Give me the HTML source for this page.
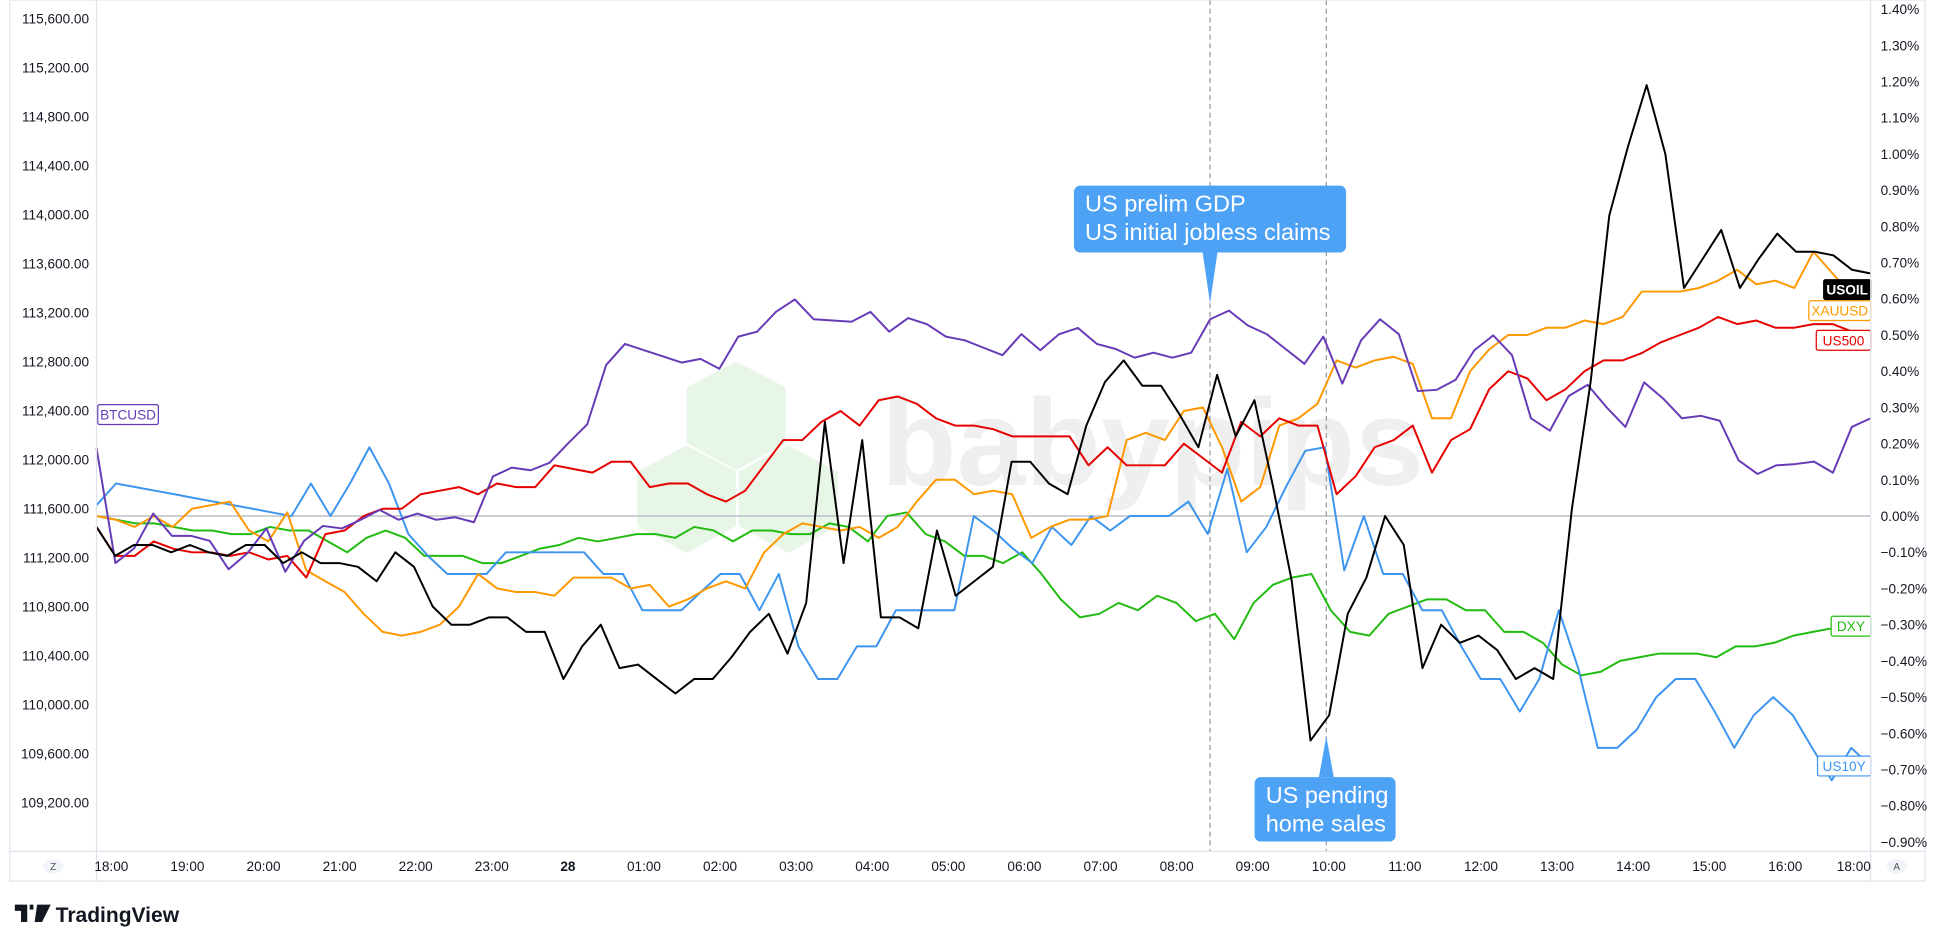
<!DOCTYPE html>
<html><head><meta charset="utf-8"><style>
html,body{margin:0;padding:0;background:#fff;width:1940px;height:943px;overflow:hidden}
svg{display:block;font-family:"Liberation Sans",sans-serif}
</style></head><body>
<svg id="chart" width="1940" height="943" viewBox="0 0 1568 762" preserveAspectRatio="none" xmlns="http://www.w3.org/2000/svg">
<rect x="0" y="0" width="1568" height="762" fill="#fff"/>
<g>
<polygon points="595,292 635,313 635,358 595,380 555,358 555,313" fill="#e7f6e7"/>
<polygon points="555,360 595,381 595,425 555,447 515,425 515,381" fill="#e7f6e7"/>
<polygon points="637,360 677,381 677,425 637,447 597,425 597,381" fill="#e7f6e7"/>
<text x="712" y="392" font-size="100" font-weight="bold" fill="#efefef">babypips</text>
</g>
<g id="grid"></g>
<g id="series"></g>
<g id="annot"></g>
<g id="axes"></g>
</svg>
<script>
const leftTicks=[115600,115200,114800,114400,114000,113600,113200,112800,112400,112000,111600,111200,110800,110400,110000,109600,109200];
const rightTicks=[1.4,1.3,1.2,1.1,1.0,0.9,0.8,0.7,0.6,0.5,0.4,0.3,0.2,0.1,0,-0.1,-0.2,-0.3,-0.4,-0.5,-0.6,-0.7,-0.8,-0.9];
const timeLabels=["18:00","19:00","20:00","21:00","22:00","23:00","28","01:00","02:00","03:00","04:00","05:00","06:00","07:00","08:00","09:00","10:00","11:00","12:00","13:00","14:00","15:00","16:00","18:00"];
const timeHours=[0,1,2,3,4,5,6,7,8,9,10,11,12,13,14,15,16,17,18,19,20,21,22,22.9];
const usoil=[-0.03,-0.11,-0.08,-0.08,-0.10,-0.08,-0.10,-0.11,-0.08,-0.08,-0.13,-0.10,-0.13,-0.13,-0.14,-0.18,-0.10,-0.14,-0.25,-0.30,-0.30,-0.28,-0.28,-0.32,-0.32,-0.45,-0.36,-0.30,-0.42,-0.41,-0.45,-0.49,-0.45,-0.45,-0.39,-0.32,-0.27,-0.38,-0.24,0.26,-0.13,0.21,-0.28,-0.28,-0.31,-0.04,-0.22,-0.18,-0.14,0.15,0.15,0.09,0.06,0.25,0.37,0.43,0.36,0.36,0.28,0.19,0.39,0.22,0.32,0.08,-0.18,-0.62,-0.55,-0.27,-0.17,0.00,-0.08,-0.42,-0.30,-0.35,-0.33,-0.37,-0.45,-0.42,-0.45,0.02,0.37,0.83,1.02,1.19,1.00,0.63,0.71,0.79,0.63,0.71,0.78,0.73,0.73,0.72,0.68,0.67];
const btcusd=[112095,111156,111277,111560,111378,111378,111337,111105,111236,111438,111085,111337,111459,111438,111509,111590,111509,111560,111509,111529,111489,111863,111934,111913,111974,112135,112287,112772,112944,112893,112843,112792,112822,112741,113004,113044,113206,113307,113145,113135,113125,113206,113044,113156,113105,113004,112974,112913,112853,113024,112893,113024,113075,112944,112903,112832,112873,112832,112873,113145,113216,113095,113024,112903,112782,113004,112620,112974,113145,113024,112560,112570,112651,112893,113014,112853,112337,112236,112519,112610,112428,112267,112630,112499,112337,112358,112317,111994,111883,111954,111964,111984,111893,112267,112337];
const xauusd=[0.00,-0.01,-0.03,0.00,-0.03,0.02,0.03,0.04,-0.04,-0.07,0.01,-0.15,-0.18,-0.21,-0.27,-0.32,-0.33,-0.32,-0.30,-0.25,-0.16,-0.20,-0.21,-0.21,-0.22,-0.17,-0.17,-0.17,-0.20,-0.19,-0.25,-0.23,-0.20,-0.18,-0.20,-0.10,-0.05,-0.02,-0.03,-0.04,-0.03,-0.06,-0.03,0.04,0.10,0.10,0.06,0.07,0.06,-0.06,-0.03,-0.01,-0.01,0.00,0.21,0.23,0.21,0.29,0.30,0.19,0.04,0.08,0.25,0.27,0.31,0.43,0.41,0.43,0.44,0.42,0.27,0.27,0.40,0.46,0.50,0.50,0.52,0.52,0.54,0.53,0.55,0.62,0.62,0.62,0.63,0.65,0.68,0.64,0.65,0.63,0.73,0.67,0.61,0.60];
const us500=[-0.03,-0.11,-0.11,-0.07,-0.09,-0.10,-0.10,-0.11,-0.10,-0.12,-0.11,-0.17,-0.05,-0.04,0.00,0.02,0.02,0.06,0.07,0.08,0.06,0.09,0.08,0.08,0.14,0.13,0.12,0.15,0.15,0.08,0.09,0.09,0.06,0.04,0.07,0.14,0.21,0.21,0.26,0.29,0.25,0.32,0.33,0.31,0.27,0.25,0.25,0.24,0.22,0.22,0.22,0.22,0.14,0.19,0.14,0.14,0.14,0.20,0.16,0.12,0.26,0.22,0.27,0.25,0.25,0.06,0.11,0.19,0.21,0.25,0.12,0.21,0.24,0.35,0.40,0.38,0.32,0.35,0.40,0.43,0.43,0.45,0.48,0.50,0.52,0.55,0.53,0.54,0.52,0.52,0.53,0.53,0.51,0.49];
const dxy=[0.00,-0.01,-0.02,-0.02,-0.03,-0.04,-0.04,-0.05,-0.05,-0.03,-0.04,-0.04,-0.07,-0.10,-0.06,-0.04,-0.06,-0.11,-0.11,-0.11,-0.13,-0.13,-0.11,-0.09,-0.08,-0.06,-0.07,-0.06,-0.05,-0.05,-0.06,-0.03,-0.04,-0.07,-0.04,-0.04,-0.05,-0.05,-0.02,-0.03,-0.07,0.00,0.01,-0.05,-0.07,-0.11,-0.11,-0.13,-0.10,-0.16,-0.23,-0.28,-0.27,-0.24,-0.26,-0.22,-0.24,-0.29,-0.27,-0.34,-0.24,-0.19,-0.17,-0.16,-0.26,-0.32,-0.33,-0.27,-0.25,-0.23,-0.23,-0.26,-0.26,-0.32,-0.32,-0.35,-0.41,-0.44,-0.43,-0.40,-0.39,-0.38,-0.38,-0.38,-0.39,-0.36,-0.36,-0.35,-0.33,-0.32,-0.31,-0.31,-0.33];
const us10y=[0.03,0.09,0.08,0.07,0.06,0.05,0.04,0.03,0.02,0.01,0.00,0.09,0.00,0.09,0.19,0.09,-0.05,-0.11,-0.16,-0.16,-0.16,-0.10,-0.10,-0.10,-0.10,-0.10,-0.16,-0.16,-0.26,-0.26,-0.26,-0.21,-0.16,-0.16,-0.26,-0.16,-0.36,-0.45,-0.45,-0.36,-0.36,-0.26,-0.26,-0.26,-0.26,0.00,-0.04,-0.09,-0.13,-0.03,-0.08,0.00,-0.04,0.00,0.00,0.00,0.04,-0.05,0.13,-0.10,-0.03,0.08,0.18,0.19,-0.15,0.00,-0.16,-0.16,-0.26,-0.26,-0.36,-0.45,-0.45,-0.54,-0.45,-0.26,-0.42,-0.64,-0.64,-0.59,-0.50,-0.45,-0.45,-0.54,-0.64,-0.55,-0.50,-0.55,-0.64,-0.73,-0.64,-0.69];

const NS='http://www.w3.org/2000/svg';
const PL=78,PR=1512,PT=0,PB=688;
function yPct(p){return 417-p*292.6;}
function yPrice(v){return 15+(115600-v)/400*39.6;}
function xTime(h){return 90+h*61.5;}
function xIdx(i,n){return PL+i*(PR-PL)/(n-1);}
function mk(tag,attrs,parent){const e=document.createElementNS(NS,tag);for(const k in attrs)e.setAttribute(k,attrs[k]);parent.appendChild(e);return e;}
const grid=document.getElementById('grid'),ser=document.getElementById('series'),ann=document.getElementById('annot'),axes=document.getElementById('axes');

let f=mk('rect',{x:8,y:0,width:1548,height:712,fill:'none',stroke:'#e0e3eb','stroke-width':1},axes);


mk('line',{x1:PL,y1:0,x2:PL,y2:712,stroke:'#e0e3eb'},axes);
mk('line',{x1:PR,y1:0,x2:PR,y2:712,stroke:'#e0e3eb'},axes);
mk('line',{x1:8,y1:PB,x2:1556,y2:PB,stroke:'#e0e3eb'},axes);
let z=mk('line',{x1:PL,y1:yPct(0),x2:PR,y2:yPct(0),stroke:'#b2b5be','stroke-width':1},grid);



leftTicks.forEach(v=>{
  const t=mk('text',{x:72,y:yPrice(v)+4,'text-anchor':'end','font-size':11,fill:'#131722'},axes);
  t.textContent=v.toLocaleString('en-US',{minimumFractionDigits:2});
  
  
});
rightTicks.forEach(v=>{
  const t=mk('text',{x:1520,y:yPct(v)+4,'font-size':11,fill:'#131722'},axes);
  t.textContent=(v<0?'\u2212':'')+Math.abs(v).toFixed(2)+'%';
  
  
});
timeLabels.forEach((l,i)=>{
  const t=mk('text',{x:xTime(timeHours[i]),y:704,'text-anchor':'middle','font-size':11,fill:'#131722','font-weight':l==='28'?'bold':'normal'},axes);
  t.textContent=l;
  
  
});

[978,1072].forEach(x=>{
  const l=mk('line',{x1:x,y1:0,x2:x,y2:PB,stroke:'#9598a1','stroke-dasharray':'4,3','stroke-width':1},grid);
  
  
});

function drawSeries(vals,yf,color,name){
  const n=vals.length;
  const pts=vals.map((v,i)=>xIdx(i,n).toFixed(1)+','+yf(v).toFixed(1)).join(' ');
  const p=mk('polyline',{points:pts,fill:'none',stroke:color,'stroke-width':1.6,'stroke-linejoin':'round'},ser);
  
  
}
drawSeries(dxy,yPct,'#22bb11','dxy-line');
drawSeries(us10y,yPct,'#3d95f0','us10y-line');
drawSeries(xauusd,yPct,'#ff9800','xauusd-line');
drawSeries(us500,yPct,'#e60000','us500-line');
drawSeries(btcusd,yPrice,'#673ab7','btcusd-line');
drawSeries(usoil,yPct,'#000000','usoil-line');

function tag(x,y,w,text,color,filled,name){
  const g=mk('g',{},ann);
  
  
  mk('rect',{x:x,y:y,width:w,height:16,rx:1.5,fill:filled?color:'#fff',stroke:color,'stroke-width':1},g);
  const t=mk('text',{x:x+w/2,y:y+12,'text-anchor':'middle','font-size':11,fill:filled?'#fff':color,'font-weight':filled?'bold':'normal'},g);
  t.textContent=text;
}
tag(79,327,49,'BTCUSD','#673ab7',false,'btcusd-label');
tag(1474,226,38,'USOIL','#000',true,'usoil-label');
tag(1462,243,50,'XAUUSD','#ff9800',false,'xauusd-label');
tag(1468,267,44,'US500','#e60000',false,'us500-label');
tag(1480,498,32,'DXY','#22bb11',false,'dxy-label');
tag(1469,611,43,'US10Y','#3d95f0',false,'us10y-label');

function callout(x,y,w,h,lines,px,py,tipUp,name){
  const g=mk('g',{},ann);
  
  
  mk('rect',{x:x,y:y,width:w,height:h,rx:5,fill:'#4ea2f6'},g);
  if(tipUp) mk('polygon',{points:`${px-6},${y} ${px+6},${y} ${px},${py}`,fill:'#4ea2f6'},g);
  else mk('polygon',{points:`${px-6},${y+h} ${px+6},${y+h} ${px},${py}`,fill:'#4ea2f6'},g);
  lines.forEach((s,i)=>{const t=mk('text',{x:x+9,y:y+21+i*23,'font-size':19,fill:'#fff'},g);t.textContent=s;});
}
callout(868,150,220,54,['US prelim GDP','US initial jobless claims'],978,245,false,'gdp-jobless-callout');
callout(1014,628,114,52,['US pending','home sales'],1072,595,true,'pending-home-sales-callout');

let zb=mk('g',{},axes);
mk('ellipse',{cx:43,cy:700,rx:8,ry:6,fill:'#f0f3fa'},zb);
let zt=mk('text',{x:43,y:703,'text-anchor':'middle','font-size':8,fill:'#555'},zb);zt.textContent='Z';
let ab=mk('g',{},axes);
mk('ellipse',{cx:1533,cy:700,rx:8,ry:6,fill:'#f0f3fa'},ab);
let at=mk('text',{x:1533,y:703,'text-anchor':'middle','font-size':8,fill:'#555'},ab);at.textContent='A';
let lg=mk('g',{},axes);
mk('path',{d:'M12,731 h10 v14 h-5 v-9 h-5 z M24,731 h3 v4 h-3 z M30,731 h11 l-7,14 h-6 z',fill:'#131722'},lg);
let lt=mk('text',{x:45,y:745,'font-size':17,'font-weight':'bold',fill:'#131722'},lg);lt.textContent='TradingView';
</script>
</body></html>
